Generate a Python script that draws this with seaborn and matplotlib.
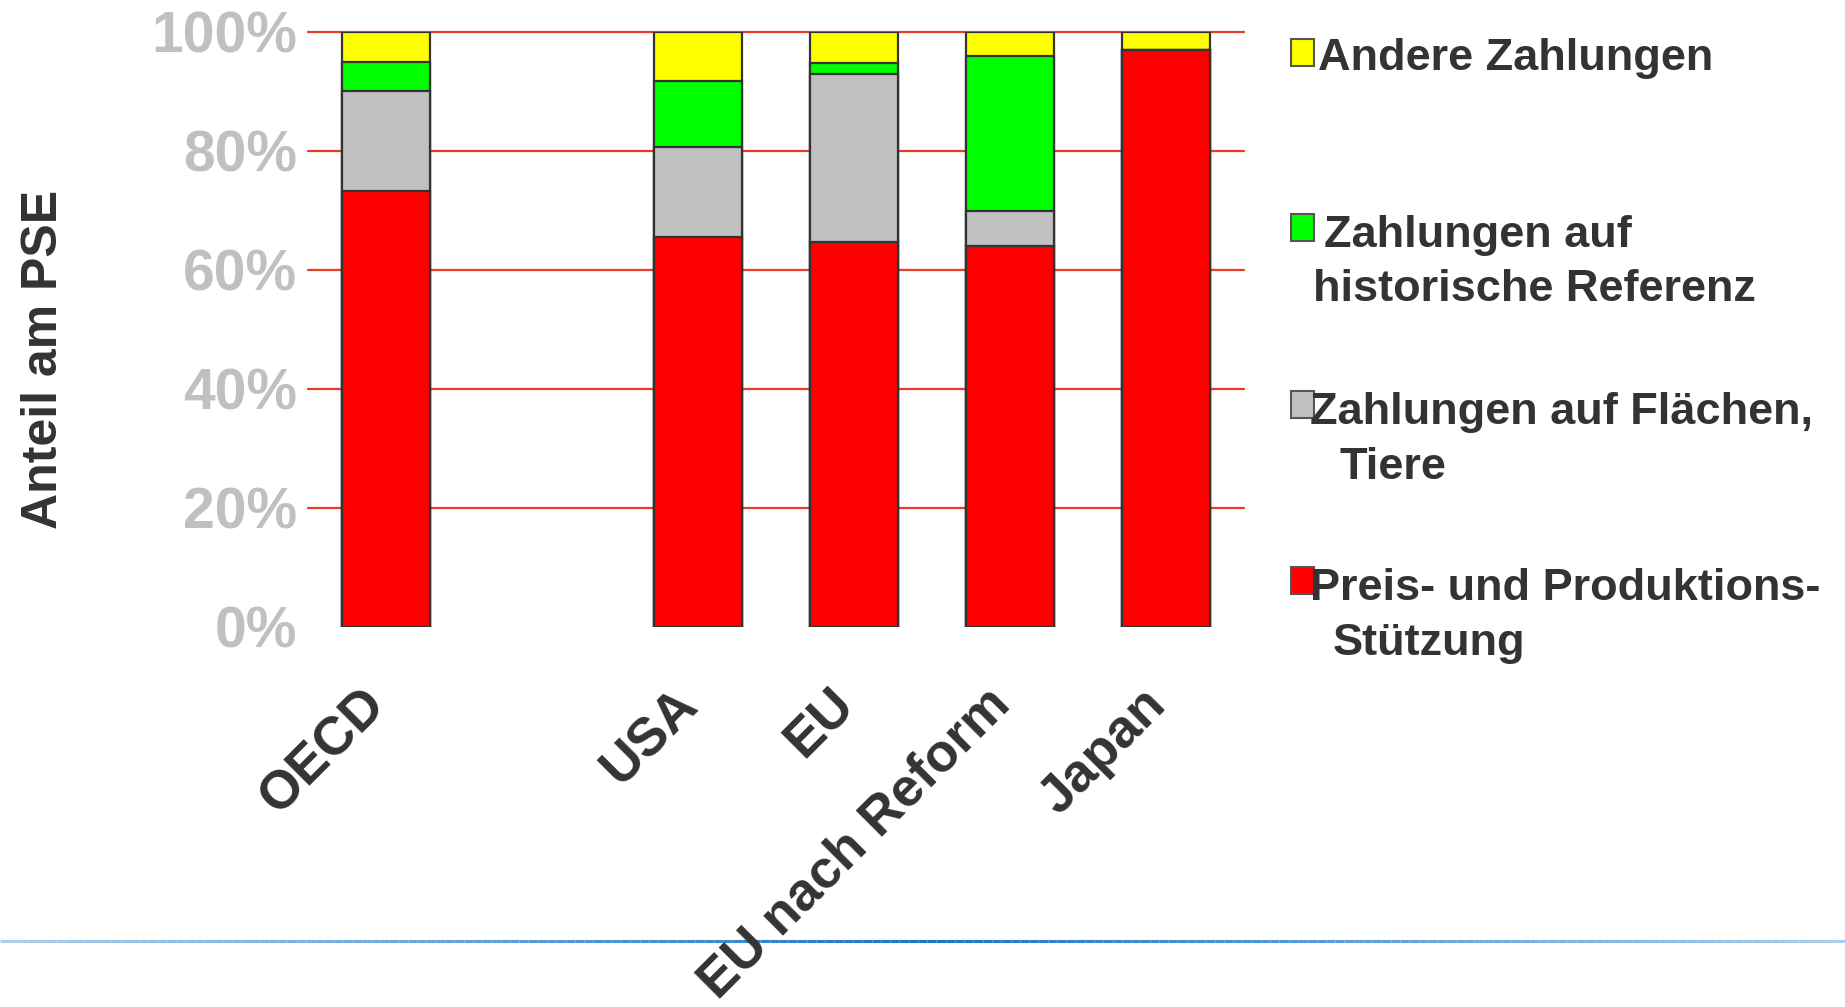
import numpy as np
import pandas as pd
import seaborn as sns
import matplotlib.pyplot as plt
import matplotlib.transforms as mtransforms
from matplotlib.patches import Rectangle
from matplotlib.collections import LineCollection

# data (share of PSE, %)
regions = ["OECD", "", "USA", "EU", "EU nach Reform", "Japan"]
bar_regions = ["OECD", "USA", "EU", "EU nach Reform", "Japan"]
preis = [73.3, 65.6, 64.7, 64.0, 97.0]
flaechen = [16.7, 15.1, 28.2, 5.9, 0.0]
historisch = [5.0, 11.1, 1.9, 26.1, 0.0]
andere = [5.0, 8.2, 5.2, 4.0, 3.0]

series_names = ["Andere Zahlungen",
                "Zahlungen auf historische Referenz",
                "Zahlungen auf Flächen, Tiere",
                "Preis- und Produktions-Stützung"]
colors = ["#ffff00", "#00ff00", "#c0c0c0", "#ff0000"]
y_ticks = [0, 20, 40, 60, 80, 100]
y_labels = ["0%", "20%", "40%", "60%", "80%", "100%"]

sns.set_theme(style="white")
plt.rcParams['font.family'] = ['Liberation Sans', 'DejaVu Sans']
plt.rcParams['font.weight'] = 'bold'

W, H = 1845, 1007
fig = plt.figure(figsize=(W / 100, H / 100), dpi=100)
ax = fig.add_axes([308 / W, 1 - 627 / H, (1244 - 308) / W, (627 - 31.8) / H])

df = pd.DataFrame({"region": bar_regions, "preis": preis, "flaechen": flaechen,
                   "historisch": historisch, "andere": andere})
# cumulative stacks, drawn from the top layer down
df["c_preis"] = df["preis"]
df["c_flaechen"] = df["c_preis"] + df["flaechen"]
df["c_hist"] = df["c_flaechen"] + df["historisch"]
df["c_andere"] = df["c_hist"] + df["andere"]

for col, c in zip(["c_andere", "c_hist", "c_flaechen", "c_preis"], colors):
    sns.barplot(data=df, x="region", y=col, order=regions, color=c,
                width=0.56, edgecolor="#333333", linewidth=1.6,
                errorbar=None, ax=ax, zorder=3, saturation=1)

ax.set_xlim(-0.5, 5.5)
ax.set_ylim(0, 100)
ax.set_yticks(y_ticks)
ax.set_yticklabels(y_labels, fontsize=41, color="#c0c0c0", fontweight="bold")
for t in [20, 40, 60, 80, 100]:
    ax.axhline(t, color="#e63c28", linewidth=1.6, zorder=1, clip_on=False)
ax.tick_params(axis="y", length=0, pad=8)
ax.tick_params(axis="x", length=0, pad=50)
ax.set_xticks(range(len(regions)))
ax.set_xticklabels(regions, rotation=45, ha="right", va="center",
                   rotation_mode="anchor", fontsize=38.5, color="#333333",
                   fontweight="bold")
shift = mtransforms.ScaledTranslation(-8 / 100, 0, fig.dpi_scale_trans)
for lbl in ax.get_xticklabels():
    lbl.set_transform(lbl.get_transform() + shift)
for s in ax.spines.values():
    s.set_visible(False)
ax.set_xlabel("")
ax.set_ylabel("Anteil am PSE", fontsize=36, color="#333333", fontweight="bold")
ax.yaxis.set_label_coords(-0.258, 0.45)

# legend built by hand to keep the slide layout
def fx(x):
    return x / W

def fy(y):
    return 1 - y / H

patch_y = [39, 214, 391, 567]
for py, c in zip(patch_y, colors):
    fig.patches.append(Rectangle((fx(1291), fy(py + 27)), 23 / W, 27 / H,
                                 transform=fig.transFigure, facecolor=c,
                                 edgecolor="#555555", linewidth=1.5))
legend_lines = [
    ("Andere Zahlungen", 1318, 70),
    ("Zahlungen auf", 1324, 247),
    ("historische Referenz", 1313, 301),
    ("Zahlungen auf Flächen,", 1310, 424),
    ("Tiere", 1339, 479),
    ("Preis- und Produktions-", 1310, 600),
    ("Stützung", 1333, 655),
]
for txt, x, y in legend_lines:
    fig.text(fx(x), fy(y), txt, fontsize=32.5, color="#333333",
             fontweight="bold", va="baseline", ha="left")

# blue rule at the bottom of the slide
xs = np.linspace(0, 1, 200)
segs = [[(xs[i], fy(941)), (xs[i + 1], fy(941))] for i in range(len(xs) - 1)]
fade = 1 - np.abs(xs[:-1] - 0.5) * 2
cols = [(0.66 - 0.56 * f, 0.81 - 0.35 * f, 0.93 - 0.15 * f) for f in fade]
lc = LineCollection(segs, colors=cols, linewidths=2.2, transform=fig.transFigure, zorder=0)
fig.add_artist(lc)

fig.savefig("out.png", dpi=100)
